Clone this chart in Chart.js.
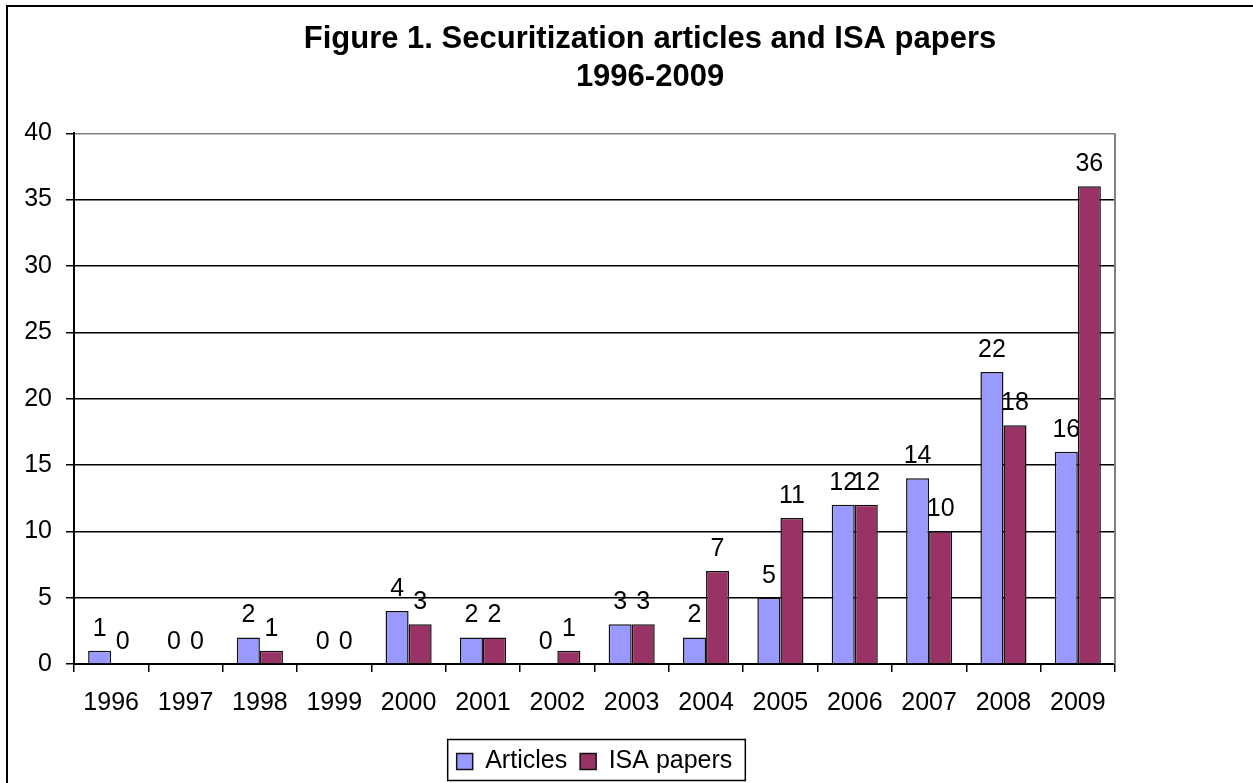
<!DOCTYPE html>
<html>
<head>
<meta charset="utf-8">
<script src="https://cdn.jsdelivr.net/npm/chart.js@4/dist/chart.umd.min.js"></script>
<style>
  html, body { margin: 0; padding: 0; background: #fff; overflow: hidden; }
  #marco { position: absolute; left: 6px; top: 5px; width: 1400px; height: 900px;
           border-left: 2px solid #000; border-top: 2px solid #000; }
  #caja { position: absolute; left: 0; top: 0; width: 1300px; height: 800px; }
</style>
</head>
<body>
<div id="marco"></div>
<div id="caja"><canvas id="grafico"></canvas></div>
<script>
// datos
const years = ["1996", "1997", "1998", "1999", "2000", "2001", "2002",
               "2003", "2004", "2005", "2006", "2007", "2008", "2009"];
const articles = [1, 0, 2, 0, 4, 2, 0, 3, 2, 5, 12, 14, 22, 16];
const isaPapers = [0, 0, 1, 0, 3, 2, 1, 3, 7, 11, 12, 10, 18, 36];
const yTicks = [0, 5, 10, 15, 20, 25, 30, 35, 40];

const fuente = "'Liberation Sans', Arial, sans-serif";

// etiquetas encima de cada barra
const etiquetas = {
  id: "etiquetas",
  afterDatasetsDraw(chart) {
    const ctx = chart.ctx;
    ctx.save();
    ctx.font = "25px " + fuente;
    ctx.fillStyle = "#000";
    ctx.textAlign = "center";
    ctx.textBaseline = "alphabetic";
    chart.data.datasets.forEach((ds, i) => {
      chart.getDatasetMeta(i).data.forEach((bar, j) => {
        ctx.fillText(String(ds.data[j]), bar.x, bar.y - 15);
      });
    });
    ctx.restore();
  }
};

// borde gris del area y caja de la leyenda
const bordes = {
  id: "bordes",
  afterDraw(chart) {
    const ctx = chart.ctx;
    const a = chart.chartArea;
    ctx.save();
    ctx.strokeStyle = "#808080";
    ctx.lineWidth = 2;
    ctx.beginPath();
    ctx.moveTo(a.right, a.top);
    ctx.lineTo(a.right, a.bottom);
    ctx.stroke();

    const hb = chart.legend.legendHitBoxes;
    if (hb && hb.length) {
      const first = hb[0];
      const last = hb[hb.length - 1];
      const cy = first.top + first.height / 2;
      ctx.strokeStyle = "#000";
      ctx.lineWidth = 1.5;
      ctx.strokeRect(first.left - 9, cy - 22, last.left + last.width + 13 - (first.left - 9), 41);
    }
    ctx.restore();
  }
};

new Chart(document.getElementById("grafico"), {
  type: "bar",
  data: {
    labels: years,
    datasets: [
      {
        label: "Articles",
        data: articles,
        backgroundColor: "#9999FF",
        borderColor: "#111",
        borderWidth: 1.5,
        categoryPercentage: 0.62,
        barPercentage: 1
      },
      {
        label: "ISA papers",
        data: isaPapers,
        backgroundColor: "#993366",
        borderColor: "#111",
        borderWidth: 1.5,
        categoryPercentage: 0.62,
        barPercentage: 1
      }
    ]
  },
  options: {
    responsive: true,
    maintainAspectRatio: false,
    animation: false,
    layout: { padding: { left: 0, right: 0, top: 0, bottom: 16 } },
    plugins: {
      title: {
        display: true,
        text: ["Figure 1. Securitization articles and ISA papers", "1996-2009"],
        color: "#000",
        font: { family: fuente, size: 31, weight: "bold", lineHeight: 1.23 },
        padding: { top: 20, bottom: 37 }
      },
      legend: {
        position: "bottom",
        fullSize: false,
        labels: {
          color: "#000",
          font: { family: fuente, size: 25 },
          boxWidth: 16,
          boxHeight: 16,
          padding: 13
        }
      },
      tooltip: { enabled: false }
    },
    scales: {
      x: {
        grid: { drawOnChartArea: false, drawTicks: true, tickLength: 8, color: "#000", lineWidth: 1.5 },
        border: { color: "#000", width: 2 },
        ticks: { color: "#000", font: { family: fuente, size: 25 }, padding: 16, maxRotation: 0 },
        afterFit: (s) => { s.height = 72; }
      },
      y: {
        min: 0,
        max: 40,
        afterBuildTicks: (s) => { s.ticks = yTicks.map((v) => ({ value: v })); },
        grid: {
          color: (c) => (c.tick && c.tick.value === 40 ? "#808080" : "#000"),
          tickColor: "#000",
          lineWidth: 1.5,
          tickLength: 8
        },
        border: { color: "#000", width: 2 },
        ticks: { color: "#000", font: { family: fuente, size: 25 }, padding: 14 },
        afterFit: (s) => { s.width = 74; }
      },
      derecha: {
        position: "right",
        display: true,
        grid: { display: false },
        border: { display: false },
        ticks: { display: false },
        afterFit: (s) => { s.width = 185; }
      }
    }
  },
  plugins: [etiquetas, bordes]
});
</script>
</body>
</html>
